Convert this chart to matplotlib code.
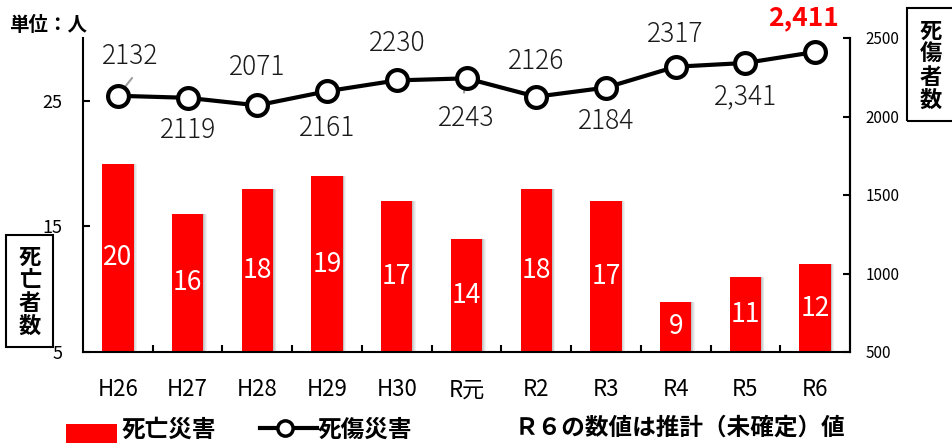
import matplotlib
matplotlib.use('Agg')
import matplotlib.pyplot as plt
from matplotlib.patches import Rectangle
from matplotlib.lines import Line2D
import numpy as np

plt.rcParams['font.family'] = ['Noto Sans CJK JP', 'DejaVu Sans']

categories = ['H26', 'H27', 'H28', 'H29', 'H30', 'R元', 'R2', 'R3', 'R4', 'R5', 'R6']
deaths = [20, 16, 18, 19, 17, 14, 18, 17, 9, 11, 12]
casualties = [2132, 2119, 2071, 2161, 2230, 2243, 2126, 2184, 2317, 2341, 2411]
casualty_labels = ['2132', '2119', '2071', '2161', '2230', '2243', '2126', '2184', '2317', '2,341', '2,411']
left_ticks = [5, 15, 25]
right_ticks = [500, 1000, 1500, 2000, 2500]

W, H = 952, 443
fig = plt.figure(figsize=(W / 100, H / 100), dpi=100)
ax = fig.add_axes([83 / W, 1 - 352 / H, (850 - 83) / W, (352 - 38) / H])

x = np.arange(len(categories))
bw = 0.45
# soft shadow on right of bars
for k, a in enumerate([0.35, 0.25, 0.15, 0.08]):
    ax.bar(x + bw / 2 + 0.012 * (k + 0.5), deaths, width=0.012, color='#555555', alpha=a,
           linewidth=0, zorder=1)
ax.bar(x, deaths, width=bw, color='#ff0000', linewidth=0, zorder=2)
for xi, v in zip(x, deaths):
    ax.text(xi, (5 + v) / 2, str(v), color='white', fontsize=19, ha='center', va='center', zorder=3)

ax.set_xlim(-0.5, len(categories) - 0.5)
ax.set_ylim(5, 30)
ax.set_yticks(left_ticks)
ax.set_yticklabels([str(t) for t in left_ticks], fontsize=13)
ax.tick_params(axis='y', direction='in', length=5, width=1.5, pad=15)
ax.set_xticks(x)
ax.set_xticklabels(categories, fontsize=16)
ax.tick_params(axis='x', which='major', length=0, pad=19)
ax.set_xticks(x[:-1] + 0.5, minor=True)
ax.tick_params(axis='x', which='minor', direction='in', length=5, width=1.5)
for s in ['left', 'bottom', 'right']:
    ax.spines[s].set_linewidth(1.5)
ax.spines['top'].set_visible(False)

ax2 = ax.twinx()
ax2.set_ylim(500, 2500)
ax2.set_yticks(right_ticks)
ax2.set_yticklabels([str(t) for t in right_ticks], fontsize=11)
ax2.tick_params(axis='y', direction='in', length=5, width=1.5, pad=11)
for s in ['left', 'bottom', 'top']:
    ax2.spines[s].set_visible(False)
ax2.spines['right'].set_linewidth(1.5)

ax2.plot(x, casualties, color='black', linewidth=3, marker='o', markersize=15,
         markerfacecolor='white', markeredgecolor='black', markeredgewidth=3, zorder=5)

offsets = [(12, 40), (0, -32), (0, 38), (0, -37), (0, 37), (0, -40), (0, 36), (0, -33), (0, 33), (0, -33), (-12, 34)]
for i, (xi, v, lab, off) in enumerate(zip(x, casualties, casualty_labels, offsets)):
    last = i == len(x) - 1
    ax2.annotate(lab, (xi, v), xytext=off, textcoords='offset pixels', ha='center', va='center',
                 fontsize=19, color='#ff0000' if last else '#1a1a1a',
                 fontweight='bold' if last else 'light', zorder=6)
# leader lines
for i, (dx1, dy1) in {0: (16, 20), 3: (3, -14), 5: (-3, -17)}.items():
    ax2.annotate('', (x[i], casualties[i]), xytext=(dx1, dy1), textcoords='offset pixels',
                 arrowprops=dict(arrowstyle='-', color='#a0a0a0', lw=1.5), zorder=4)

# unit label
fig.text(9 / W, 1 - 25 / H, '単位：人', fontsize=14, fontweight='bold', ha='left', va='center')

# left axis box
fig.patches.append(Rectangle((6 / W, 1 - 347 / H), 47 / W, 112 / H, transform=fig.transFigure,
                             fill=False, edgecolor='black', linewidth=1.5))
fig.text(30 / W, 1 - 292 / H, '死\n亡\n者\n数', fontsize=16, fontweight='bold', ha='center',
         va='center', linespacing=1.0)
# right axis box
fig.patches.append(Rectangle((907 / W, 1 - 121 / H), 60 / W, 113 / H, transform=fig.transFigure,
                             fill=False, edgecolor='black', linewidth=1.5))
fig.text(931 / W, 1 - 66 / H, '死\n傷\n者\n数', fontsize=16, fontweight='bold', ha='center',
         va='center', linespacing=1.0)

# legend
ly = 1 - 430 / H
fig.patches.append(Rectangle((66 / W, -5 / H), 51 / W, 24 / H, transform=fig.transFigure,
                             facecolor='#ff0000', edgecolor='none'))
fig.text(122 / W, ly, '死亡災害', fontsize=17, fontweight='bold', ha='left', va='center')
fig.lines.append(Line2D([260 / W, 317 / W], [ly + 2 / H, ly + 2 / H], transform=fig.transFigure,
                        color='black', linewidth=3))
fig.lines.append(Line2D([285 / W], [ly + 2 / H], transform=fig.transFigure, color='black',
                        marker='o', markersize=11, markerfacecolor='white', markeredgewidth=2.5))
fig.text(318 / W, ly, '死傷災害', fontsize=17, fontweight='bold', ha='left', va='center')
fig.text(515 / W, 1 - 428 / H, 'Ｒ６の数値は推計（未確定）値', fontsize=17, fontweight='bold',
         ha='left', va='center')

fig.savefig('out.png', dpi=100)
